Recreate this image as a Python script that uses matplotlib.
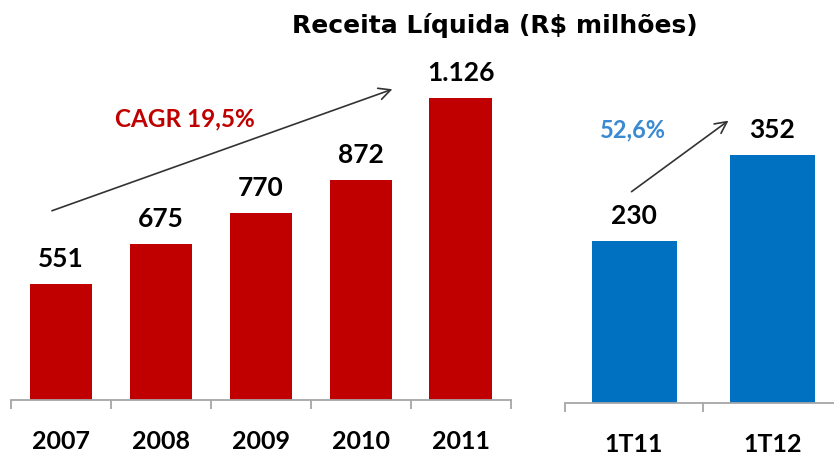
import matplotlib
matplotlib.use("Agg")
import matplotlib.pyplot as plt
import numpy as np

years = ["2007", "2008", "2009", "2010", "2011"]
annual = [551, 675, 770, 872, 1126]
annual_labels = ["551", "675", "770", "872", "1.126"]
quarters = ["1T11", "1T12"]
quarterly = [230, 352]
quarterly_labels = ["230", "352"]
title = "Receita Líquida (R$ milhões)"
cagr_text = "CAGR 19,5%"
growth_text = "52,6%"

W, H = 834, 455
fig = plt.figure(figsize=(W / 100, H / 100), dpi=100)
fig.patch.set_facecolor("white")

RED = "#C00000"
BLUE = "#0070C0"
AXC = "#A6A6A6"
LBL_FONT = "Lato"

def px_rect(x0, x1, y_bottom, y_top):
    return [x0 / W, (H - y_bottom) / H, (x1 - x0) / W, (y_bottom - y_top) / H]

def style_axis(ax, n, labels, pad):
    for s in ["left", "right", "top"]:
        ax.spines[s].set_visible(False)
    ax.spines["bottom"].set_color(AXC)
    ax.spines["bottom"].set_linewidth(1.3)
    ax.set_yticks([])
    ax.set_xlim(-0.5, n - 0.5)
    ax.set_xticks(np.arange(n))
    ax.set_xticklabels(labels, fontsize=18, fontweight="bold", family=LBL_FONT)
    ax.tick_params(axis="x", which="major", length=0, pad=pad)
    ax.set_xticks(np.arange(n + 1) - 0.5, minor=True)
    ax.tick_params(axis="x", which="minor", length=6.5, width=1.3, color=AXC, direction="out")
    ax.patch.set_alpha(0)

# Left chart
ax1 = fig.add_axes(px_rect(11, 510.7, 400, 50))
x1 = np.arange(len(years))
ax1.bar(x1, annual, width=0.625, color=RED)
ax1.set_ylim(195, 195 + 350 / 0.3245)
for xi, v, lab in zip(x1, annual, annual_labels):
    ax1.annotate(lab, (xi, v), xytext=(0, 18), textcoords="offset points",
                 ha="center", va="center", fontsize=19, fontweight="bold", family=LBL_FONT)
style_axis(ax1, len(years), years, 21.5)

# Right chart
ax2 = fig.add_axes(px_rect(565, 841.6, 402.7, 50))
x2 = np.arange(len(quarters))
ax2.bar(x2, quarterly, width=0.615, color=BLUE)
ax2.set_ylim(0, 352.7 / 0.705)
for xi, v, lab in zip(x2, quarterly, quarterly_labels):
    ax2.annotate(lab, (xi, v), xytext=(0, 18), textcoords="offset points",
                 ha="center", va="center", fontsize=19, fontweight="bold", family=LBL_FONT)
style_axis(ax2, len(quarters), quarters, 21.5)

# Title
fig.text(291.7 / W, 1 - 26 / H, title, ha="left", va="center", fontsize=18,
         fontweight="bold", family="DejaVu Sans")

# Arrows
arrow_kw = dict(arrowstyle="->,head_length=0.7,head_width=0.35", color="#333333", lw=1.2)
fig.add_artist(matplotlib.patches.FancyArrowPatch(
    (49.3 / W, 1 - 211.7 / H), (395 / W, 1 - 88.3 / H),
    transform=fig.transFigure, mutation_scale=12, **arrow_kw))
fig.add_artist(matplotlib.patches.FancyArrowPatch(
    (629.3 / W, 1 - 193.3 / H), (730.7 / W, 1 - 119 / H),
    transform=fig.transFigure, mutation_scale=12, **arrow_kw))

fig.text(185 / W, 1 - 119.3 / H, cagr_text, ha="center", va="center", fontsize=17.5,
         fontweight="bold", color=RED, family=LBL_FONT)
fig.text(633 / W, 1 - 130 / H, growth_text, ha="center", va="center", fontsize=17,
         fontweight="bold", color="#3A8AD2", family=LBL_FONT)

fig.savefig("out.png", dpi=100, facecolor="white")
